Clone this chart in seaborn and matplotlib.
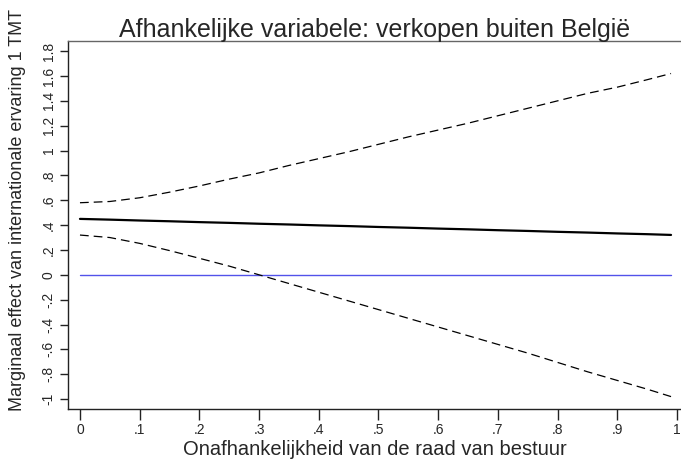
import numpy as np
import pandas as pd
import seaborn as sns
import matplotlib
matplotlib.use("Agg")
import matplotlib.pyplot as plt

# values
z = [0.0, 0.05, 0.1, 0.15, 0.2, 0.25, 0.3, 0.35, 0.4, 0.45, 0.5,
     0.55, 0.6, 0.65, 0.7, 0.75, 0.8, 0.85, 0.9, 0.95, 0.99]
effect = [0.450, 0.444, 0.437, 0.431, 0.424, 0.418, 0.411, 0.405, 0.398, 0.392, 0.385,
          0.379, 0.372, 0.366, 0.359, 0.353, 0.346, 0.340, 0.333, 0.327, 0.321]
upper = [0.58, 0.59, 0.62, 0.665, 0.715, 0.77, 0.82, 0.88, 0.935, 0.99, 1.05,
         1.11, 1.165, 1.22, 1.28, 1.34, 1.40, 1.46, 1.51, 1.57, 1.62]
lower = [0.32, 0.30, 0.253, 0.195, 0.133, 0.07, 0.0, -0.07, -0.14, -0.21, -0.28,
         -0.35, -0.42, -0.49, -0.56, -0.63, -0.705, -0.78, -0.85, -0.92, -0.98]
zero_line = [0.0] * len(z)

x_ticks = [0, 0.1, 0.2, 0.3, 0.4, 0.5, 0.6, 0.7, 0.8, 0.9, 1.0]
x_labels = ["0", ".1", ".2", ".3", ".4", ".5", ".6", ".7", ".8", ".9", "1"]
y_ticks = [-1, -0.8, -0.6, -0.4, -0.2, 0, 0.2, 0.4, 0.6, 0.8, 1, 1.2, 1.4, 1.6, 1.8]
y_labels = ["-1", "-.8", "-.6", "-.4", "-.2", "0", ".2", ".4", ".6", ".8",
            "1", "1.2", "1.4", "1.6", "1.8"]

df = pd.DataFrame({"z": z, "effect": effect, "upper": upper,
                   "lower": lower, "zero": zero_line})

sns.set_style("white")
plt.rcParams["font.family"] = ["Liberation Sans", "DejaVu Sans"]

fig = plt.figure(figsize=(6.81, 4.68), dpi=100)
ax = fig.add_axes([0.0999, 0.126, 0.9001, 0.786])

sns.lineplot(data=df, x="z", y="zero", ax=ax, color="#5252ea", linewidth=1.0)
sns.lineplot(data=df, x="z", y="upper", ax=ax, color="black", linewidth=0.9,
             linestyle=(0, (7, 4)))
sns.lineplot(data=df, x="z", y="lower", ax=ax, color="black", linewidth=0.9,
             linestyle=(0, (7, 4)))
sns.lineplot(data=df, x="z", y="effect", ax=ax, color="black", linewidth=1.6)

ax.set_xlim(-0.02, 1.0067)
ax.set_ylim(-1.08, 1.88)
ax.set_xticks(x_ticks)
ax.set_xticklabels(x_labels, fontsize=10)
ax.set_yticks(y_ticks)
ax.set_yticklabels(y_labels, fontsize=10, rotation=90, va="center")
ax.tick_params(axis="x", length=8, width=1, color="#222222", pad=2, bottom=True)
ax.tick_params(axis="y", length=6, width=1, color="#222222", pad=3, left=True)

for side in ["left", "bottom", "top"]:
    ax.spines[side].set_color("#222222")
    ax.spines[side].set_linewidth(1)
ax.spines["right"].set_visible(False)
ax.spines["top"].set_color("#666666")

ax.set_xlabel("Onafhankelijkheid van de raad van bestuur", fontsize=14.5, labelpad=2)
ax.set_ylabel("Marginaal effect van internationale ervaring 1 TMT", fontsize=13)
ax.yaxis.set_label_coords(-0.068, 0.54)
ax.set_title("Afhankelijke variabele: verkopen buiten België", fontsize=18, pad=3)

fig.savefig("out.png", dpi=100)
